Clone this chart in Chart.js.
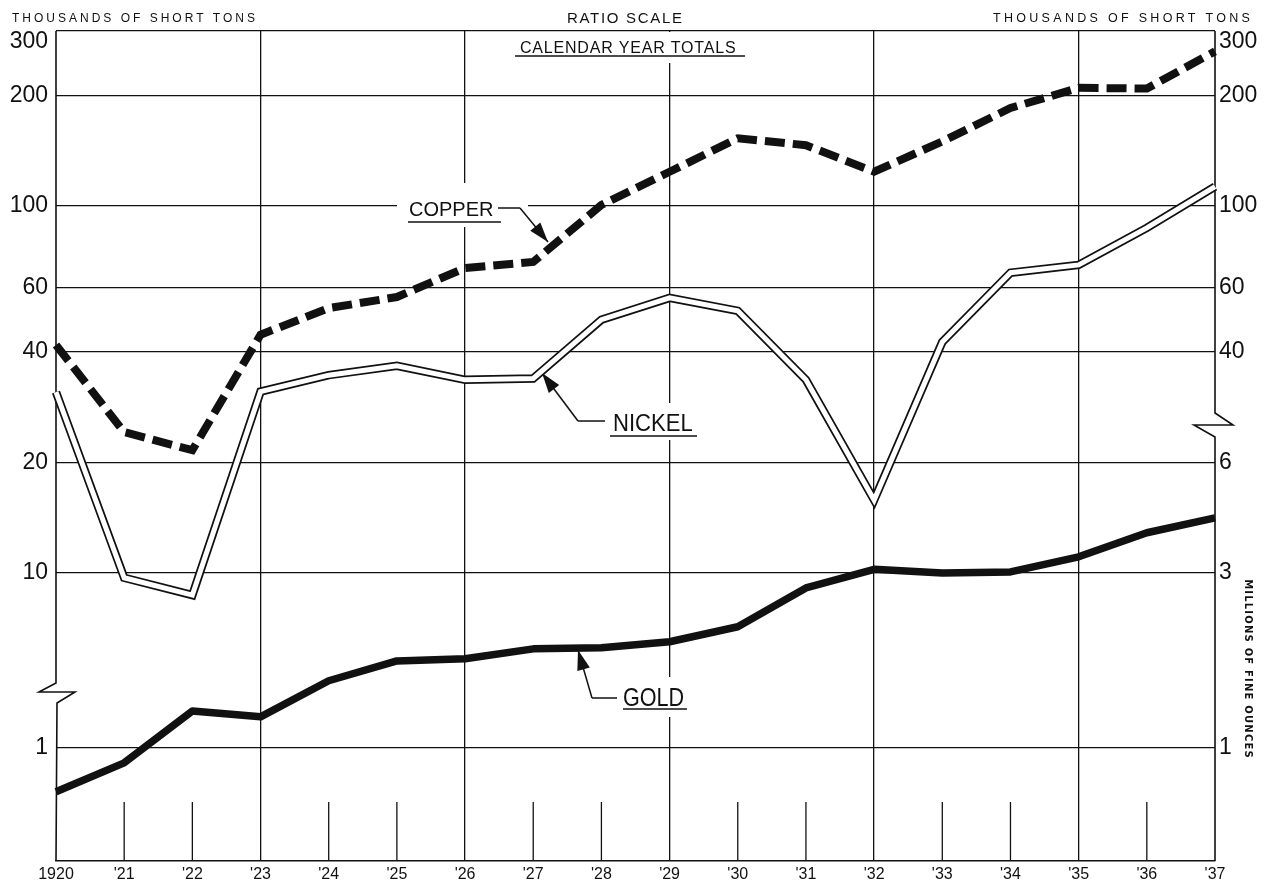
<!DOCTYPE html>
<html>
<head>
<meta charset="utf-8">
<script src="https://cdn.jsdelivr.net/npm/chart.js@4.4.1/dist/chart.umd.min.js"></script>
<style>
  body { margin: 0; background: #fff; }
  #wrap { width: 1264px; height: 884px; }
</style>
</head>
<body>
<div id="wrap"><canvas id="chart" width="1264" height="884"></canvas></div>
<script>
// Jaren (x-as)
const years = ["1920", "'21", "'22", "'23", "'24", "'25", "'26", "'27", "'28", "'29", "'30", "'31", "'32", "'33", "'34", "'35", "'36", "'37"];

// Duizenden short tons
const copper = [41.8, 24.2, 21.6, 44.6, 52.7, 56.5, 67.8, 70.4, 100.7, 124, 153, 146.5, 124, 150, 185, 210, 209, 264];
const nickel = [31.1, 9.7, 8.7, 31.2, 34.6, 36.7, 33.6, 33.9, 49, 56.2, 51.8, 33.6, 15.8, 42.6, 65.8, 69.1, 87.2, 113];

// Miljoenen fine ounces (rechter as)
const gold = [0.76, 0.911, 1.262, 1.216, 1.525, 1.727, 1.75, 1.863, 1.875, 1.948, 2.14, 2.73, 3.07, 3.0, 3.02, 3.32, 3.86, 4.24];

// Schaal: goud-as = koper-as * goldRatio
const goldRatio = 0.3;
const yMin = 1.64;
const yMax = 300;

// Tick labels (oplopend)
const leftTickValues = [1 / goldRatio, 10, 20, 40, 60, 100, 200, 300];
const leftTickLabels = ["1", "10", "20", "40", "60", "100", "200", "300"];
const rightTickValues = [1, 3, 6, 12, 18, 30, 60, 90];
const rightTickLabels = ["1", "3", "6", "40", "60", "100", "200", "300"];

// Jaren met volle verticale lijn
const gridYears = ["'23", "'26", "'29", "'32", "'35"];

const tickFont = { family: "'Liberation Sans', Arial, sans-serif", size: 23, lineHeight: 0.9 };

function text(ctx, str, x, y, size, opts = {}) {
  ctx.save();
  ctx.font = `${opts.bold ? "bold " : ""}${size}px ${opts.family || "'Liberation Sans', Arial, sans-serif"}`;
  ctx.letterSpacing = (opts.spacing || 0) + "px";
  ctx.textAlign = opts.align || "left";
  ctx.textBaseline = "alphabetic";
  ctx.fillStyle = "#111";
  ctx.translate(x, y);
  if (opts.rotate) ctx.rotate(opts.rotate);
  ctx.scale(opts.squeeze || 1, 1);
  ctx.fillText(str, 0, 0);
  ctx.restore();
}

function line(ctx, pts, w = 1.5) {
  ctx.beginPath();
  ctx.lineWidth = w;
  ctx.moveTo(pts[0][0], pts[0][1]);
  pts.slice(1).forEach(p => ctx.lineTo(p[0], p[1]));
  ctx.stroke();
}

function arrow(ctx, from, tip) {
  line(ctx, [from, tip]);
  const ang = Math.atan2(tip[1] - from[1], tip[0] - from[0]);
  const len = 20, half = 6.5;
  const bx = tip[0] - Math.cos(ang) * len, by = tip[1] - Math.sin(ang) * len;
  ctx.beginPath();
  ctx.moveTo(tip[0], tip[1]);
  ctx.lineTo(bx + Math.sin(ang) * half, by - Math.cos(ang) * half);
  ctx.lineTo(bx - Math.sin(ang) * half, by + Math.cos(ang) * half);
  ctx.closePath();
  ctx.fill();
}

const decor = {
  id: "decor",
  beforeDatasetsDraw(chart) {
    const { ctx, chartArea: a, scales } = chart;
    ctx.save();
    ctx.strokeStyle = "#111";
    ctx.fillStyle = "#111";

    // witte vlakken achter de labels
    ctx.fillStyle = "#fff";
    ctx.fillRect(508, a.top + 1, 244, 31);
    ctx.fillRect(397, 183, 131, 44);
    ctx.fillRect(600, 403, 105, 37);
    ctx.fillRect(612, 677, 83, 40);
    ctx.fillStyle = "#111";

    // korte jaarstreepjes onderaan
    years.forEach((y, i) => {
      if (i === 0 || i === years.length - 1 || gridYears.includes(y)) return;
      const x = scales.x.getPixelForValue(i);
      line(ctx, [[x, a.bottom - 59], [x, a.bottom]], 1.3);
    });

    // assen met onderbreking
    const L = a.left, R = a.right;
    line(ctx, [[L, a.top], [L, 683], [L - 17, 692], [L + 19, 692], [L + 1, 703], [L, a.bottom]], 1.6);
    line(ctx, [[R, a.top], [R, 413], [R + 18, 425], [R - 21, 425], [R, 437], [R, a.bottom]], 1.6);

    // labels
    text(ctx, "CALENDAR YEAR TOTALS", 520, 53, 16, { spacing: 0.8 });
    line(ctx, [[515, 56], [745, 56]], 1.4);

    text(ctx, "COPPER", 409, 216, 20);
    line(ctx, [[408, 222], [501, 222]], 1.6);
    line(ctx, [[498, 208], [520, 208]]);
    arrow(ctx, [520, 208], [548, 242]);

    text(ctx, "NICKEL", 613, 431, 24.5, { squeeze: 0.9 });
    line(ctx, [[610, 436], [697, 436]], 1.6);
    line(ctx, [[605, 421], [578, 421]]);
    arrow(ctx, [578, 421], [542, 373]);

    text(ctx, "GOLD", 623, 706, 26, { squeeze: 0.83 });
    line(ctx, [[623, 709], [687, 709]], 1.6);
    line(ctx, [[617, 698], [592, 698]]);
    arrow(ctx, [592, 698], [578, 650]);

    ctx.restore();
  },
  afterDraw(chart) {
    const { ctx } = chart;
    text(ctx, "THOUSANDS OF SHORT TONS", 12, 22, 12, { spacing: 3 });
    text(ctx, "RATIO SCALE", 567, 23, 15, { spacing: 1.7 });
    text(ctx, "THOUSANDS OF SHORT TONS", 993, 22, 12.5, { spacing: 3.3 });
    text(ctx, "MILLIONS OF FINE OUNCES", 1245, 669, 10, {
      bold: true, spacing: 1.2, align: "center", rotate: Math.PI / 2,
      family: "'DejaVu Sans', sans-serif"
    });
  }
};

new Chart(document.getElementById("chart"), {
  type: "line",
  data: {
    labels: years,
    datasets: [
      { label: "Copper", data: copper, yAxisID: "y", borderColor: "#111", borderWidth: 8, borderDash: [20, 8], borderCapStyle: "butt", borderJoinStyle: "miter" },
      { label: "Nickel", data: nickel, yAxisID: "y", borderColor: "#fff", borderWidth: 5, borderJoinStyle: "miter" },
      { label: "Nickel rand", data: nickel, yAxisID: "y", borderColor: "#111", borderWidth: 8.5, borderJoinStyle: "miter" },
      { label: "Gold", data: gold, yAxisID: "y2", borderColor: "#111", borderWidth: 7.5, borderJoinStyle: "round" },
    ],
  },
  options: {
    responsive: false,
    animation: false,
    layout: { padding: { top: 31, left: 0, right: 0, bottom: 0 } },
    elements: { point: { radius: 0 }, line: { tension: 0 } },
    plugins: { legend: { display: false }, tooltip: { enabled: false } },
    scales: {
      x: {
        type: "category",
        offset: false,
        afterFit: s => { s.height = 23; },
        border: { display: true, color: "#111", width: 1.6 },
        grid: {
          drawTicks: false,
          color: c => (c.tick && gridYears.includes(years[c.index]) ? "#111" : "rgba(0,0,0,0)"),
          lineWidth: 1.3,
        },
        ticks: { color: "#111", maxRotation: 0, autoSkip: false, padding: 4, font: { family: "'Liberation Sans', Arial, sans-serif", size: 16 } },
      },
      y: {
        type: "logarithmic",
        position: "left",
        min: yMin,
        max: yMax,
        afterFit: s => { s.width = 56; },
        afterBuildTicks: s => { s.ticks = leftTickValues.map(v => ({ value: v })); },
        border: { display: false },
        grid: { drawTicks: false, color: "#111", lineWidth: 1.3 },
        ticks: {
          color: "#111", padding: 8, autoSkip: false, font: tickFont,
          callback: (v, i) => (i === leftTickLabels.length - 1 ? ["", leftTickLabels[i]] : leftTickLabels[i]),
        },
      },
      y2: {
        type: "logarithmic",
        position: "right",
        min: yMin * goldRatio,
        max: yMax * goldRatio,
        afterFit: s => { s.width = 49; },
        afterBuildTicks: s => { s.ticks = rightTickValues.map(v => ({ value: v })); },
        border: { display: false },
        grid: { display: false, drawTicks: false },
        ticks: {
          color: "#111", padding: 4, autoSkip: false, font: tickFont,
          callback: (v, i) => (i === rightTickLabels.length - 1 ? ["", rightTickLabels[i]] : rightTickLabels[i]),
        },
      },
    },
  },
  plugins: [decor],
});
</script>
</body>
</html>
